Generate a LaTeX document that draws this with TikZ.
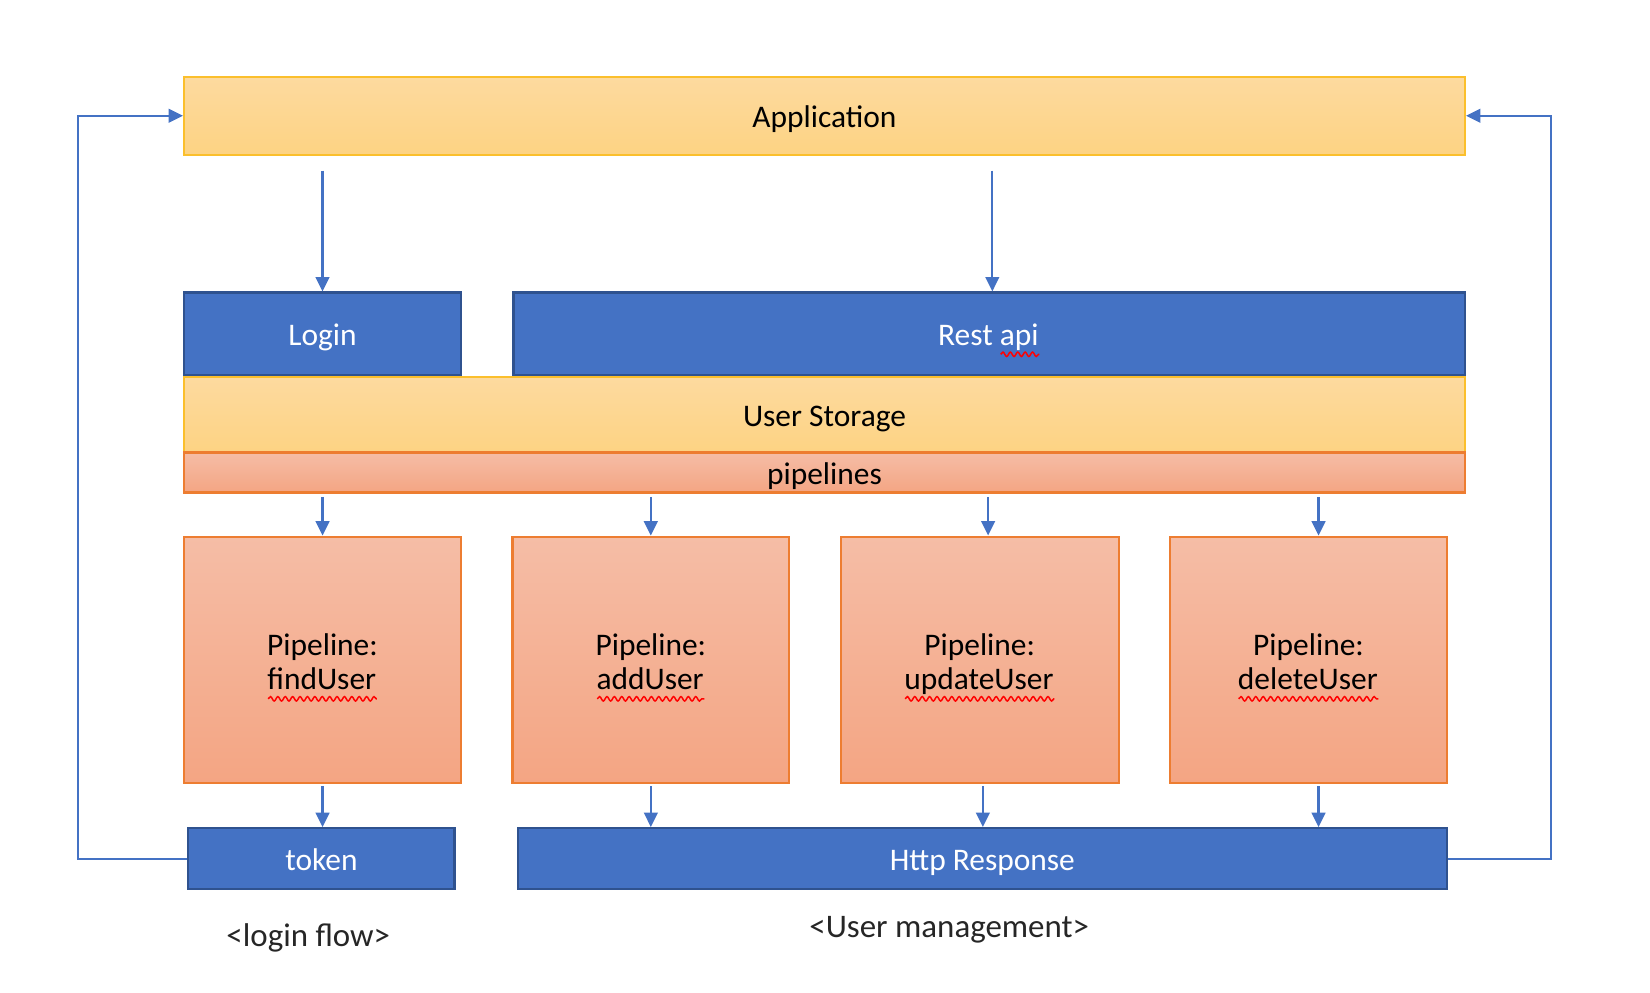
\documentclass[tikz,border=0pt]{standalone}
\usepackage{fontspec}
\setmainfont{Carlito}
\usetikzlibrary{arrows.meta,decorations.pathmorphing}
\definecolor{boxblue}{HTML}{4472C4}
\definecolor{boxblueline}{HTML}{2F528F}
\definecolor{goldline}{HTML}{FBBF2C}
\definecolor{goldtop}{HTML}{FDDA9F}
\definecolor{goldbot}{HTML}{FDD383}
\definecolor{salmonline}{HTML}{ED7D31}
\definecolor{salmontop}{HTML}{F5BDA6}
\definecolor{salmonbot}{HTML}{F4A583}
\definecolor{labelgray}{HTML}{262626}
\tikzset{
  oneline/.style={text height=7.1pt, text depth=0.7pt},
  bluebox/.style={draw=boxblueline, fill=boxblue, text=white, line width=0.6pt, inner sep=0pt, oneline},
  goldbox/.style={draw=goldline, top color=goldtop, bottom color=goldbot, line width=0.6pt, inner sep=0pt, oneline},
  salmonbox/.style={draw=salmonline, top color=salmontop, bottom color=salmonbot, line width=0.6pt, inner sep=0pt},
  flow/.style={draw=boxblue, line width=0.6pt, -{Triangle[width=3.7pt,length=3.9pt]}},
  caption/.style={text=labelgray, font=\fontsize{8.9}{10}\selectfont},
  squiggle/.style={draw=red, line width=0.4pt, decorate,
    decoration={snake, amplitude=0.6pt, segment length=2pt}}
}
\newlength\squigwd
\newcommand\squig[1]{\settowidth{\squigwd}{#1}\rlap{#1}\smash{\tikz[baseline=0pt]\draw[squiggle] (0,-2.4pt) -- (\squigwd,-2.4pt);}}
\begin{document}
\begin{tikzpicture}[font=\fontsize{8.5}{9.2}\selectfont]
  \useasboundingbox (0,0) rectangle (15.68,-9.43);
  \node [goldbox, minimum width=12.17cm, minimum height=0.74cm] (app) at (7.835,-1.10) {Application};
  \node [bluebox, minimum width=2.63cm, minimum height=0.78cm] (login) at (3.065,-3.17) {Login};
  \node [bluebox, minimum width=9.04cm, minimum height=0.78cm] (rest) at (9.40,-3.17) {Rest \squig{api}};
  \node [goldbox, minimum width=12.17cm, minimum height=0.72cm] (store) at (7.835,-3.94) {User Storage};
  \node [salmonbox, oneline, minimum width=12.17cm, minimum height=0.38cm] (pipes) at (7.835,-4.49) {pipelines};
  \foreach \n/\x/\w/\fn in {p1/3.065/2.63/findUser, p2/6.185/2.63/addUser,
		p3/9.31/2.64/updateUser, p4/12.435/2.63/deleteUser} {
    \node [salmonbox, minimum width=\w cm, minimum height=2.34cm, align=center] (\n) at (\x,-6.27)
      {\rule{0pt}{9.1pt}Pipeline:\\\squig{\fn}\rule[-2pt]{0pt}{2pt}};
  }
  \node [bluebox, minimum width=2.53cm, minimum height=0.58cm] (token) at (3.055,-8.16) {token};
  \node [bluebox, minimum width=8.83cm, minimum height=0.58cm] (http) at (9.335,-8.16) {Http Response};
  \node [caption] (loginflow) at (2.93,-8.91) {<login flow>};
  \node [caption] (userman) at (9.02,-8.84) {<User management>};

  \draw [flow] ([yshift=-0.14cm]app.south -| login.north) -- (login.north);
  \draw [flow] ([xshift=0.03cm,yshift=-0.14cm]app.south -| rest.north) -- ([xshift=0.03cm]rest.north);
  \foreach \n/\t/\ux/\lx in {p1/token/0/0, p2/http/0/0, p3/http/0.08/0.03, p4/http/0.095/0.095} {
    \draw [flow] ([xshift=\ux cm,yshift=-0.03cm]pipes.south -| \n.north) -- ([xshift=\ux cm]\n.north);
    \draw [flow] ([xshift=\lx cm,yshift=-0.02cm]\n.south) -- ([xshift=\lx cm]\n.south |- \t.north);
  }
  \draw [flow] (token.west) -- ++(-1.04,0) |- (app.west);
  \draw [flow] (http.east) -- ++(0.98,0) |- (app.east);
\end{tikzpicture}
\end{document}
